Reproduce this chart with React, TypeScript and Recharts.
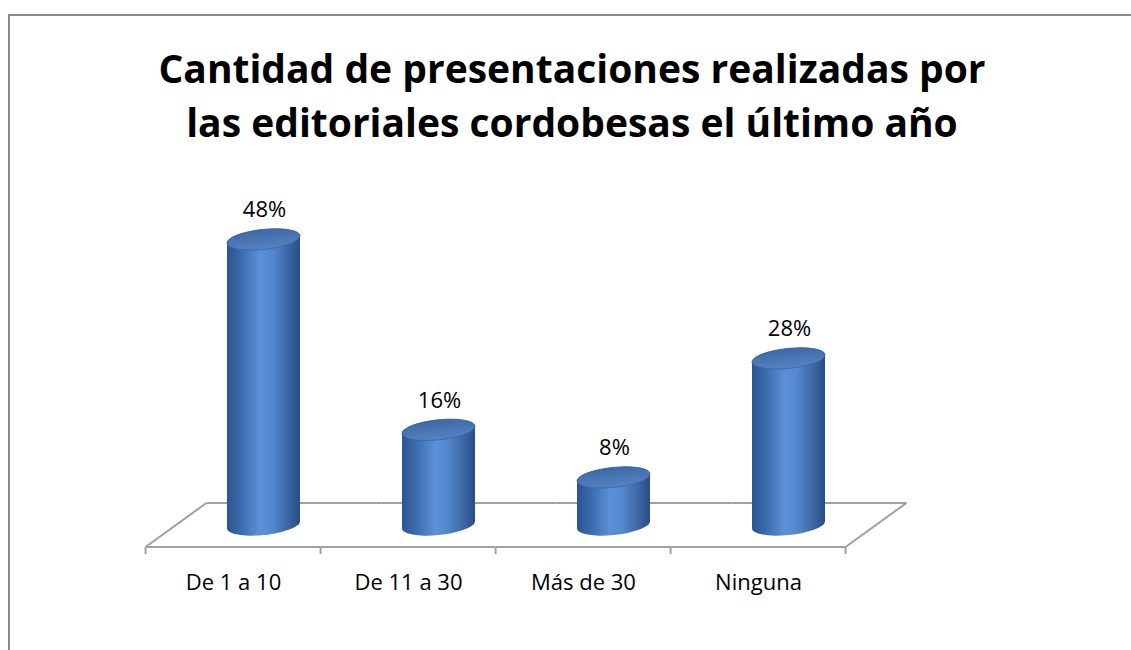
import React from 'react';
import { ComposedChart, Bar, XAxis, YAxis, LabelList } from 'recharts';

const categories = ['De 1 a 10', 'De 11 a 30', 'Más de 30', 'Ninguna'];
const percentages = [48, 16, 8, 28];
const yTicks = [0, 10, 20, 30, 40, 50, 60];
const titleLines = ['Cantidad de presentaciones realizadas por', 'las editoriales cordobesas el último año'];

const data = categories.map((name, i) => ({ name, value: percentages[i] }));

const FLOOR = '#a0a0a0';
const FONT = '"Open Sans", "Noto Sans", sans-serif';
const TILT = -6;
const RY = 10;
const GAP = 0.2914;

function ellipseGeom(W: number, ry: number, deg: number) {
  const th = (deg * Math.PI) / 180;
  const c = Math.cos(th);
  const s = Math.sin(th);
  const rx = Math.sqrt(Math.max(W * W - ry * ry * s * s, 1) / (c * c));
  const yR = (c * s * (rx * rx - ry * ry)) / W;
  return { rx, yR };
}

function Cylinder(props: any) {
  const { x, y, width, height, index } = props;
  const n = categories.length;
  const W = width / 2;
  const cx = x + W;
  const bw = width / (1 - 2 * GAP);
  const bx = cx - bw / 2;
  const base = y + height;
  const dx = bw * 0.174;
  const dy = bw * 0.126;
  const { rx, yR } = ellipseGeom(W, RY, TILT);
  const body = `M ${cx - W} ${y - yR} L ${cx - W} ${base - yR} A ${rx} ${RY} ${TILT} 0 0 ${cx + W} ${base + yR} L ${cx + W} ${y + yR} A ${rx} ${RY} ${TILT} 0 0 ${cx - W} ${y - yR} Z`;
  return (
    <g>
      <line x1={bx + dx} y1={base - dy} x2={bx + bw + dx} y2={base - dy} stroke={FLOOR} strokeWidth={2} />
      <line x1={bx - dx} y1={base + dy} x2={bx + bw - dx} y2={base + dy} stroke={FLOOR} strokeWidth={2} />
      <line x1={bx - dx} y1={base + dy} x2={bx - dx} y2={base + dy + 7} stroke={FLOOR} strokeWidth={2} />
      {index === 0 && (
        <line x1={bx - dx} y1={base + dy} x2={bx + dx} y2={base - dy} stroke={FLOOR} strokeWidth={2} />
      )}
      {index === n - 1 && (
        <g>
          <line x1={bx + bw - dx} y1={base + dy} x2={bx + bw + dx} y2={base - dy} stroke={FLOOR} strokeWidth={2} />
          <line x1={bx + bw - dx} y1={base + dy} x2={bx + bw - dx} y2={base + dy + 7} stroke={FLOOR} strokeWidth={2} />
        </g>
      )}
      <path d={body} fill="url(#cylBody)" />
      <ellipse
        cx={cx}
        cy={y}
        rx={rx}
        ry={RY}
        transform={`rotate(${TILT} ${cx} ${y})`}
        fill="url(#cylTop)"
        stroke="#3a65a2"
        strokeWidth={0.8}
      />
    </g>
  );
}

function CategoryTick(props: any) {
  const { x, y, payload } = props;
  return (
    <text x={x - 30} y={y + 57} textAnchor="middle" fontFamily={FONT} fontSize={22} fill="#000">
      {payload.value}
    </text>
  );
}

function ValueLabel(props: any) {
  const { x, y, width, value } = props;
  return (
    <text x={x + width / 2 + 1} y={y - 22} textAnchor="middle" fontFamily={FONT} fontSize={22} fill="#000">
      {`${value}%`}
    </text>
  );
}

export default function App() {
  return (
    <div
      style={{
        position: 'absolute',
        left: 8,
        top: 14,
        width: 1123,
        height: 636,
        boxSizing: 'border-box',
        borderTop: '2px solid #8a8a8a',
        borderLeft: '2px solid #8a8a8a',
        background: '#fff',
        overflow: 'hidden',
      }}
    >
      <div
        style={{
          position: 'absolute',
          left: 0,
          top: 24.9,
          width: 1124,
          textAlign: 'center',
          fontFamily: FONT,
          fontWeight: 700,
          fontSize: 39,
          lineHeight: '54px',
          color: '#000',
        }}
      >
        {titleLines.map((t) => (
          <div key={t}>{t}</div>
        ))}
      </div>
      <ComposedChart
        width={1121}
        height={634}
        data={data}
        margin={{ top: 152, right: 255, bottom: 95, left: 166 }}
        barCategoryGap={`${GAP * 100}%`}
      >
        <defs>
          <linearGradient id="cylBody" x1="0" y1="0" x2="1" y2="0">
            <stop offset="0" stopColor="#2a5390" />
            <stop offset="0.18" stopColor="#3a6aab" />
            <stop offset="0.45" stopColor="#5b90d8" />
            <stop offset="0.62" stopColor="#5387ce" />
            <stop offset="0.87" stopColor="#3862a0" />
            <stop offset="1" stopColor="#284c84" />
          </linearGradient>
          <linearGradient id="cylTop" x1="0" y1="0" x2="0" y2="1">
            <stop offset="0" stopColor="#3e69a6" />
            <stop offset="1" stopColor="#5582c2" />
          </linearGradient>
        </defs>
        <XAxis dataKey="name" axisLine={false} tickLine={false} tick={<CategoryTick />} interval={0} />
        <YAxis hide domain={[0, 60]} ticks={yTicks} />
        <Bar dataKey="value" shape={<Cylinder />} isAnimationActive={false}>
          <LabelList dataKey="value" content={<ValueLabel />} />
        </Bar>
      </ComposedChart>
    </div>
  );
}
